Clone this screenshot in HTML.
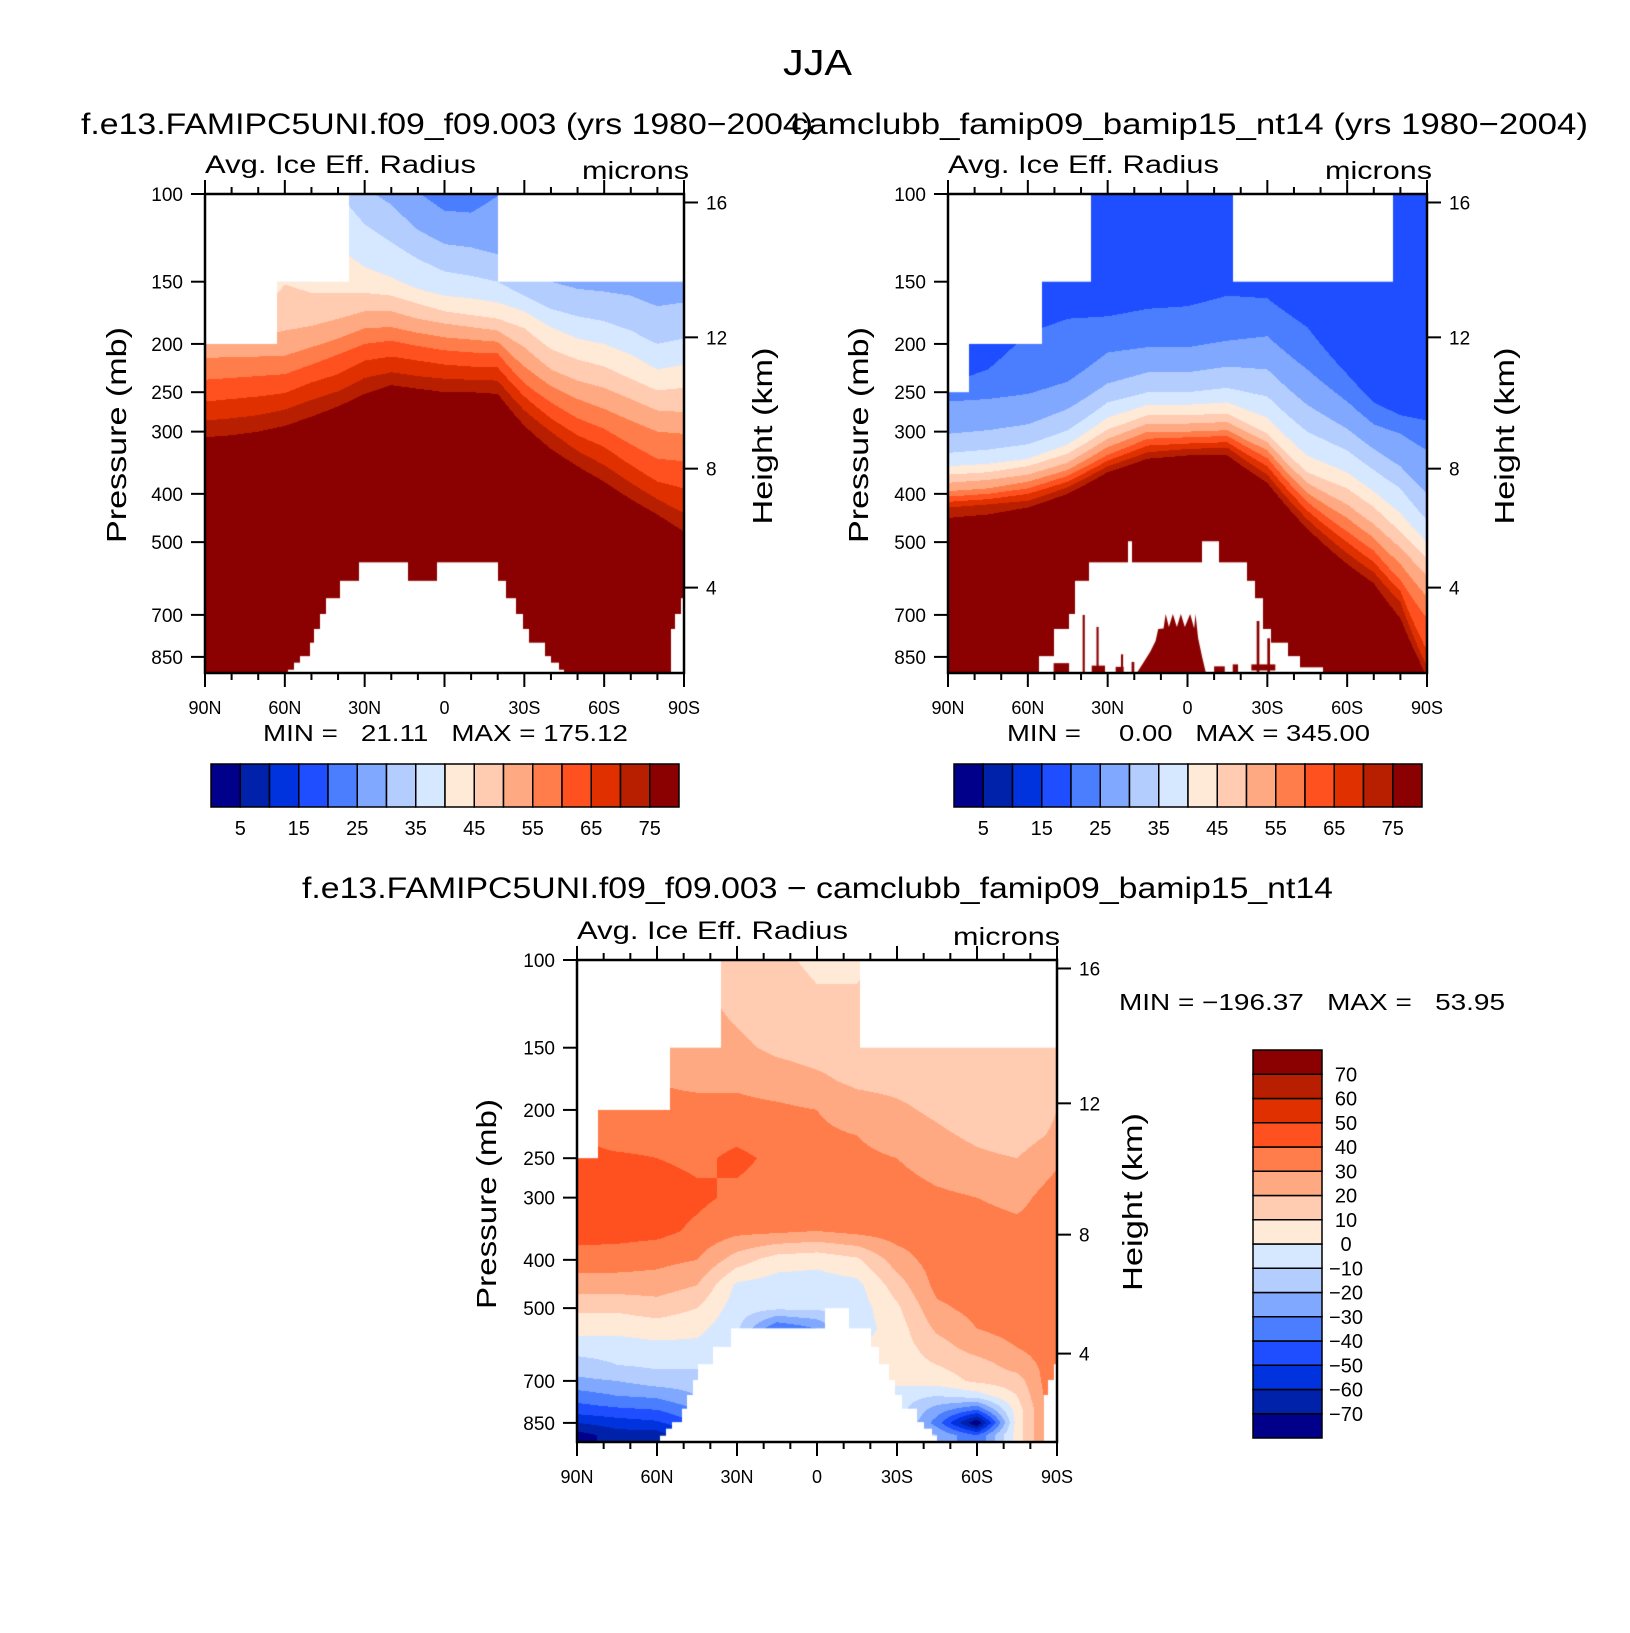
<!DOCTYPE html>
<html><head><meta charset="utf-8">
<style>
html,body{margin:0;padding:0;background:#fff;}
#root{position:relative;width:1630px;height:1633px;overflow:hidden;background:#fff;}
canvas{position:absolute;}
svg{position:absolute;left:0;top:0;}
text{font-family:"Liberation Sans",sans-serif;fill:#000;}
</style></head>
<body>
<div id="root">
<canvas id="c1" width="479" height="479" style="left:205px;top:194px"></canvas>
<canvas id="c2" width="479" height="479" style="left:948px;top:194px"></canvas>
<canvas id="c3" width="480" height="482" style="left:577px;top:960px"></canvas>
<svg id="ov" width="1630" height="1633">
<text x="783" y="75" font-size="36" textLength="69" lengthAdjust="spacingAndGlyphs">JJA</text>
<text x="81" y="134" font-size="30" textLength="732" lengthAdjust="spacingAndGlyphs">f.e13.FAMIPC5UNI.f09_f09.003 (yrs 1980−2004)</text>
<text x="791" y="134" font-size="30" textLength="797" lengthAdjust="spacingAndGlyphs">camclubb_famip09_bamip15_nt14 (yrs 1980−2004)</text>
<text x="302" y="898" font-size="30" textLength="1031" lengthAdjust="spacingAndGlyphs">f.e13.FAMIPC5UNI.f09_f09.003 − camclubb_famip09_bamip15_nt14</text>
<text x="205" y="173" font-size="25" textLength="271" lengthAdjust="spacingAndGlyphs">Avg. Ice Eff. Radius</text>
<text x="582" y="179" font-size="25" textLength="107" lengthAdjust="spacingAndGlyphs">microns</text>
<text x="948" y="173" font-size="25" textLength="271" lengthAdjust="spacingAndGlyphs">Avg. Ice Eff. Radius</text>
<text x="1325" y="179" font-size="25" textLength="107" lengthAdjust="spacingAndGlyphs">microns</text>
<text x="577" y="939" font-size="25" textLength="271" lengthAdjust="spacingAndGlyphs">Avg. Ice Eff. Radius</text>
<text x="953" y="945" font-size="25" textLength="107" lengthAdjust="spacingAndGlyphs">microns</text>
<text x="263" y="741" font-size="23" textLength="365" lengthAdjust="spacingAndGlyphs" xml:space="preserve">MIN =   21.11   MAX = 175.12</text>
<text x="1007" y="741" font-size="23" textLength="363" lengthAdjust="spacingAndGlyphs" xml:space="preserve">MIN =     0.00   MAX = 345.00</text>
<text x="1119" y="1010" font-size="23" textLength="386" lengthAdjust="spacingAndGlyphs" xml:space="preserve">MIN = −196.37   MAX =   53.95</text>
</svg>
</div>
<script>
// ---------- shared colour levels ----------
const levelColors = ["#00008a","#0022aa","#0033dd","#1e4eff","#4a7eff","#80a8ff","#b3cdff","#d6e8ff",
  "#ffe9d7","#ffcbb1","#ffa982","#ff7d4a","#ff5020","#e03000","#b81f00","#8b0000"];
const cbLabelsTop = [5,15,25,35,45,55,65,75];
const cbLabelsDiff = [70,60,50,40,30,20,10,0,-10,-20,-30,-40,-50,-60,-70];
const pressureTicks = [100,150,200,250,300,400,500,700,850];
const heightTicksKm = [16,12,8,4];
const heightTickP = [104,194,356,617];
const latTickLabels = ["90N","60N","30N","0","30S","60S","90S"];
const latTickValues = [90,60,30,0,-30,-60,-90];

// ---------- panel 1 (contour boundaries in mb per latitude) ----------
const lats1 = [90,80,70,60,50,40,30,20,10,0,-10,-20,-30,-40,-50,-60,-70,-80,-90];
const thr1 = [25,30,35,40,45,50,55,60,65,70,75];
const b1_25 = [95,95,95,95,95,95,95,95,99,108,109,101,95,95,95,95,95,95,95];
const b1_30 = [97,97,97,97,97,97,97,105,118,126,128,132,140,150,155,157,160,168,165];
const b1_35 = [99,99,99,99,99,99,115,125,135,143,146,150,160,170,176,180,188,200,195];
const b1_40 = [150,150,150,150,150,128,140,147,155,160,162,165,172,185,195,200,210,225,220];
const b1_45 = [175,175,175,152,158,158,158,160,166,172,175,178,186,205,215,222,235,248,245];
const b1_50 = [195,195,194,188,184,178,172,172,178,182,185,188,203,225,237,245,258,272,274];
const b1_55 = [214,212,212,211,203,195,186,185,190,194,196,198,222,243,258,270,285,300,303];
const b1_60 = [236,234,232,230,220,210,200,197,202,206,208,209,240,262,282,296,318,340,344];
const b1_65 = [261,258,255,251,239,230,216,212,216,220,222,223,255,282,305,322,350,378,390];
const b1_70 = [285,282,278,271,259,249,234,228,232,235,236,237,272,300,328,350,380,410,437];
const b1_75 = [308,305,300,292,280,267,252,242,246,250,250,252,292,325,352,378,410,440,476];
const bounds1 = [b1_25,b1_30,b1_35,b1_40,b1_45,b1_50,b1_55,b1_60,b1_65,b1_70,b1_75];
const topMask1 = [[90,63,200],[63,36,150],[-20,-90,150]];
const topo1 = [[58.7,56.7,902],[56.7,54.4,873],[54.4,50.5,847],[50.5,48.9,796],[48.9,46.6,747],[46.6,44.6,697],
  [44.6,39.1,648],[39.1,32.3,598],[32.3,13.7,549],[13.7,2.9,598],[2.9,-20.2,549],[-20.2,-23.1,598],[-23.1,-27,648],
  [-27,-29.4,697],[-29.4,-31.7,747],[-31.7,-37.6,796],[-37.6,-40.1,847],[-40.1,-43.1,873],[-43.1,-45,902],
  [-85.1,-86.5,747],[-86.5,-88.9,697],[-88.9,-90,648]];

// ---------- panel 2 ----------
const lats2 = [90,75,60,45,30,15,0,-15,-30,-45,-60,-70,-80,-90];
const thr2 = [20,25,30,35,40,45,50,55,60,65,70,75];
const b2_20 = [240,225,190,178,176,170,168,160,162,185,230,262,278,285];
const b2_25 = [261,258,252,238,208,203,203,197,193,225,261,290,303,327];
const b2_30 = [303,298,290,270,240,228,228,222,225,265,296,325,352,400];
const b2_35 = [331,326,318,298,262,250,250,245,255,300,327,358,390,452];
const b2_40 = [352,348,340,318,281,265,265,262,281,335,362,395,437,500];
const b2_45 = [366,362,352,332,297,278,278,276,303,362,390,425,476,540];
const b2_50 = [380,375,366,346,310,289,289,287,315,380,420,460,513,582];
const b2_55 = [395,390,378,358,322,300,300,298,327,398,447,490,553,643];
const b2_60 = [405,400,390,368,334,310,308,306,339,415,476,520,596,711];
const b2_65 = [415,410,400,378,343,320,317,315,352,432,500,548,627,825];
const b2_70 = [426,420,413,388,352,330,325,323,366,450,526,575,660,889];
const b2_75 = [447,440,426,400,362,340,335,335,380,470,553,605,711,930];
const bounds2 = [b2_20,b2_25,b2_30,b2_35,b2_40,b2_45,b2_50,b2_55,b2_60,b2_65,b2_70,b2_75];
const topMask2 = [[90,82.2,250],[82.2,54.8,200],[54.8,36.2,150],[-17,-77.3,150]];
const topo2 = [[55.8,50.3,847],[50.3,44.4,747],[44.4,42.4,697],[42.4,37.2,598],[37.2,22.5,549],[22.5,20.9,498],
  [20.9,-5.5,549],[-5.5,-11.8,498],[-11.8,-22.5,549],[-22.5,-25.5,598],[-25.5,-28.4,648],[-28.4,-31.3,747],
  [-31.3,-37.8,796],[-37.8,-42.1,847],[-42.1,-50.9,892]];
const blobLat2 = [19,17,14,12,11,9,8.2,7,5.5,4,2.5,1,-1,-2.5,-3,-4,-5.5,-6.9];
const blobP2 = [915,880,830,790,747,745,697,740,697,740,697,740,697,745,697,780,850,915];
const specks2 = [[50.3,44.5,875,915],[39.4,38.6,700,915],[34.2,33.4,740,915],[36,31,885,915],[27,24,890,915],
  [-10,-14,888,915],[-17,-19,880,915],[-24,-33,880,905],[-26,-27,720,915],[-30,-31,780,915],[21,20,870,915],[25,24.2,840,915]];

// ---------- panel 3 (difference grid) ----------
const lats3 = [90,75,60,45,30,15,0,-15,-30,-45,-60,-75,-90];
const pLev3 = [100,125,150,175,200,225,250,300,350,400,450,500,550,600,650,700,750,800,850,900];
const d3_90N = [42,42,42,42,42,42,42,45,45,35,25,12,3,-5,-15,-22,-35,-45,-60,-75];
const d3_75N = [32,32,32,32,32,35,42,45,44,35,25,12,3,-5,-10,-20,-30,-42,-55,-65];
const d3_60N = [30,30,30,30,32,35,40,45,43,33,25,15,5,-3,-8,-15,-28,-40,-52,-65];
const d3_45N = [22,23,25,28,33,36,38,42,38,30,20,10,3,-3,-8,-15,-20,-30,-40,-50];
const d3_30N = [15,18,22,28,33,38,42,38,33,15,-2,-5,-8,-10,-10,-10,-10,-10,-10,-10];
const d3_15N = [12,15,18,25,32,35,38,36,32,5,-5,-8,-40,-40,-40,-40,-40,-40,-40,-40];
const d3_EQ  = [8,12,16,22,30,32,34,34,30,3,-5,-8,-30,-30,-30,-30,-30,-30,-30,-30];
const d3_15S = [8,12,15,18,25,30,32,35,33,8,-3,-5,-5,0,0,0,0,0,0,0];
const d3_30S = [15,15,15,17,22,26,30,35,35,25,15,8,5,5,5,3,-5,-5,-5,-5];
const d3_45S = [13,13,13,15,18,22,25,32,35,35,33,28,22,15,10,5,-10,-25,-35,-20];
const d3_60S = [12,12,12,14,13,18,22,30,35,35,35,33,30,25,15,12,-5,-40,-80,-40];
const d3_75S = [12,12,12,12,10,15,20,27,33,35,35,35,33,30,25,15,10,5,5,5];
const d3_90S = [20,20,20,18,20,22,28,35,35,35,35,35,35,35,35,40,40,40,40,40];
const grid3 = [d3_90N,d3_75N,d3_60N,d3_45N,d3_30N,d3_15N,d3_EQ,d3_15S,d3_30S,d3_45S,d3_60S,d3_75S,d3_90S];
const topMask3 = [[90,82,250],[82,55,200],[55,36,150],[-16,-90,150]];
const topo3 = [[58.7,56.7,902],[56.7,54.4,873],[54.4,50.5,847],[50.5,48.9,796],[48.9,46.6,747],[46.6,44.6,697],
  [44.6,39.1,648],[39.1,32.3,598],[32.3,-3,549],[-3,-12,500],[-12,-20.2,549],[-20.2,-23.1,598],[-23.1,-27,648],
  [-27,-29.4,697],[-29.4,-31.7,747],[-31.7,-37.6,796],[-37.6,-40.1,847],[-40.1,-43.1,873],[-43.1,-45,902],
  [-85.1,-86.5,747],[-86.5,-88.9,697],[-88.9,-90,648]];

// ---------- axis functions ----------
const PXPERLN = 216.3;
function yOfP(p){ return PXPERLN*Math.log(p/100); }
function pOfY(y){ return 100*Math.exp(y/PXPERLN); }
function xOfLat(lat,W){ return (90-lat)/180*W; }
function latOfX(x,W){ return 90 - x/W*180; }
function interp(xs, ys, x){
  if (x >= xs[0]) return ys[0];
  for (let i=0;i<xs.length-1;i++){
    if (x <= xs[i] && x >= xs[i+1]){ const t=(xs[i]-x)/(xs[i]-xs[i+1]); return ys[i]+(ys[i+1]-ys[i])*t; }
  }
  return ys[ys.length-1];
}
function hexRGB(h){ return [parseInt(h.substr(1,2),16),parseInt(h.substr(3,2),16),parseInt(h.substr(5,2),16)]; }
const rgb = levelColors.map(hexRGB);

function paintBoundaries(ctx,W,H,lats,bounds,baseClass){
  const img = ctx.createImageData(W,H);
  for (let x=0;x<W;x++){
    const lat = latOfX(x+0.5,W);
    const bp = bounds.map(b=>interp(lats,b,lat));
    for (let y=0;y<H;y++){
      const p = pOfY(y+0.5);
      let c = baseClass;
      for (let k=0;k<bp.length;k++) if (p > bp[k]) c = baseClass+k+1;
      const col = rgb[Math.min(15,c)]; const i=(y*W+x)*4;
      img.data[i]=col[0]; img.data[i+1]=col[1]; img.data[i+2]=col[2]; img.data[i+3]=255;
    }
  }
  ctx.putImageData(img,0,0);
}
function paintGrid(ctx,W,H,lats,plev,grid){
  const img = ctx.createImageData(W,H);
  const negLnP = plev.map(p=>-Math.log(p));
  for (let x=0;x<W;x++){
    const lat = latOfX(x+0.5,W);
    for (let y=0;y<H;y++){
      const lp = Math.log(pOfY(y+0.5));
      const col = grid.map(g=>interp(negLnP, g, -lp));
      const v = interp(lats,col,lat);
      const c = Math.max(0,Math.min(15,Math.floor(v/10)+8));
      const cc = rgb[c]; const i=(y*W+x)*4;
      img.data[i]=cc[0]; img.data[i+1]=cc[1]; img.data[i+2]=cc[2]; img.data[i+3]=255;
    }
  }
  ctx.putImageData(img,0,0);
}
function paintMasks(ctx,W,H,topMask,topo){
  ctx.fillStyle="#fff";
  topMask.forEach(m=>{ const x0=xOfLat(m[0],W), x1=xOfLat(m[1],W); ctx.fillRect(Math.round(x0),0,Math.round(x1)-Math.round(x0),yOfP(m[2])); });
  topo.forEach(m=>{ const x0=Math.round(xOfLat(m[0],W)), x1=Math.round(xOfLat(m[1],W)); const y=yOfP(m[2]); ctx.fillRect(x0,y,x1-x0,H-y); });
}

(function(){ const cv=document.getElementById('c1'); const ctx=cv.getContext('2d');
  paintBoundaries(ctx,479,479,lats1,bounds1,4); paintMasks(ctx,479,479,topMask1,topo1); })();
(function(){ const cv=document.getElementById('c2'); const ctx=cv.getContext('2d');
  paintBoundaries(ctx,479,479,lats2,bounds2,3); paintMasks(ctx,479,479,topMask2,topo2);
  ctx.fillStyle=levelColors[15];
  ctx.beginPath();
  blobLat2.forEach((la,i)=>{ const x=xOfLat(la,479), y=yOfP(blobP2[i]); if(i===0)ctx.moveTo(x,y); else ctx.lineTo(x,y); });
  ctx.closePath(); ctx.fill();
  specks2.forEach(s=>{ const x0=xOfLat(s[0],479), x1=xOfLat(s[1],479); const y0=yOfP(s[2]), y1=Math.min(479,yOfP(s[3])); ctx.fillRect(x0,y0,x1-x0,y1-y0); });
})();
(function(){ const cv=document.getElementById('c3'); const ctx=cv.getContext('2d');
  paintGrid(ctx,480,482,lats3,pLev3,grid3); paintMasks(ctx,480,482,topMask3,topo3); })();

// ---------- SVG overlay ----------
const NS="http://www.w3.org/2000/svg";
const ov=document.getElementById('ov');
function mk(tag,attrs,parent){ const e=document.createElementNS(NS,tag); for(const k in attrs) e.setAttribute(k,attrs[k]); (parent||ov).appendChild(e); return e; }

function drawAxes(id,fx,fy,W,H){
  const g=mk('g',{});
  
  
  const fr=mk('rect',{x:fx,y:fy,width:W,height:H,fill:'none',stroke:'#000','stroke-width':2.5},g);
  
  
  for (let lat=90; lat>=-90; lat-=10){
    const x=fx+xOfLat(lat,W); const major=(lat%30===0); const L=major?14:7;
    const t1=mk('line',{x1:x,y1:fy,x2:x,y2:fy-L,stroke:'#000','stroke-width':2},g);
    
    
    const t2=mk('line',{x1:x,y1:fy+H,x2:x,y2:fy+H+L,stroke:'#000','stroke-width':2},g);
    
    
  }
  latTickValues.forEach((lat,i)=>{
    const t=mk('text',{x:fx+xOfLat(lat,W),y:fy+H+41,'font-size':18,'text-anchor':'middle'},g);
    t.textContent=latTickLabels[i];
    
    
  });
  pressureTicks.forEach(p=>{
    const y=fy+yOfP(p);
    const l=mk('line',{x1:fx,y1:y,x2:fx-14,y2:y,stroke:'#000','stroke-width':2},g);
    
    
    const t=mk('text',{x:fx-22,y:y+7,'font-size':19,'text-anchor':'end'},g);
    t.textContent=String(p);
    
    
  });
  heightTicksKm.forEach((km,i)=>{
    const y=fy+yOfP(heightTickP[i]);
    const l=mk('line',{x1:fx+W,y1:y,x2:fx+W+14,y2:y,stroke:'#000','stroke-width':2},g);
    
    
    const t=mk('text',{x:fx+W+22,y:y+7,'font-size':19},g);
    t.textContent=String(km);
    
    
  });
}
function axisTitles(id,px,py,hx,hy,pl,hl){
  const a=mk('text',{x:0,y:0,'font-size':28,'text-anchor':'middle',textLength:pl,lengthAdjust:'spacingAndGlyphs',transform:`translate(${px},${py}) rotate(-90)`});
  a.textContent='Pressure  (mb)';
  
  
  const b=mk('text',{x:0,y:0,'font-size':28,'text-anchor':'middle',textLength:hl,lengthAdjust:'spacingAndGlyphs',transform:`translate(${hx},${hy}) rotate(-90)`});
  b.textContent='Height  (km)';
  
  
}
function hColorbar(id,x0,y0,W,H){
  const bw=W/16;
  levelColors.forEach((c,i)=>{
    const r=mk('rect',{x:x0+i*bw,y:y0,width:bw,height:H,fill:c,stroke:'#000','stroke-width':1.5});
    
    
  });
  cbLabelsTop.forEach(v=>{
    const t=mk('text',{x:x0+(v/5)*bw,y:y0+H+28,'font-size':20,'text-anchor':'middle'});
    t.textContent=String(v);
    
    
  });
}
function vColorbar(id,x0,y0,W,H){
  const bh=H/16;
  levelColors.forEach((c,i)=>{
    const r=mk('rect',{x:x0,y:y0+H-(i+1)*bh,width:W,height:bh,fill:c,stroke:'#000','stroke-width':1.5});
    
    
  });
  cbLabelsDiff.forEach(v=>{
    const idx=(v+80)/10;
    const t=mk('text',{x:x0+W+24,y:y0+H-idx*bh+7,'font-size':20,'text-anchor':'middle'});
    t.textContent=String(v).replace('-','−');
    
    
  });
}
drawAxes('panel-1',205,194,479,479);
drawAxes('panel-2',948,194,479,479);
drawAxes('panel-3',577,960,480,482);
axisTitles('panel-1',126,435,772,436,216,177);
axisTitles('panel-2',868,435,1514,436,216,177);
axisTitles('panel-3',496,1204,1142,1202,210,178);
hColorbar('panel-1',211,764,468,43);
hColorbar('panel-2',954,764,468,43);
vColorbar('panel-3',1253,1050,69,388);
</script>
</body></html>
